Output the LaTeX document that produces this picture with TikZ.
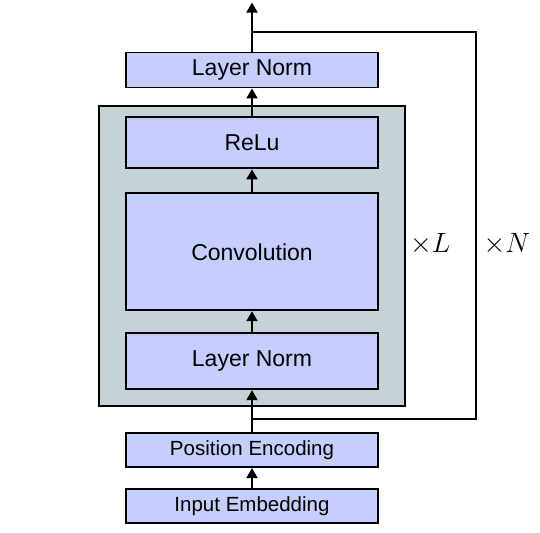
\documentclass[tikz,border=0pt]{standalone}
\usepackage{graphicx}
\usepackage{fontspec}
\setmainfont{Liberation Sans}
\usetikzlibrary{positioning, fit, arrows.meta, backgrounds, calc}
\definecolor{blockblue}{RGB}{197,206,253}
\definecolor{stackgray}{RGB}{197,211,216}

\begin{document}
\begin{tikzpicture}[
    x=1pt, y=1pt,
    block/.style={
        draw,
        rectangle,
        line width=1.9pt,
        minimum width=252pt,
        fill=blockblue,
        align=center,
        font=\fontsize{23}{27}\selectfont
    },
    smallblock/.style={
        block,
        minimum height=34pt,
        font=\fontsize{20.5}{24}\selectfont
    },
    arrow/.style={
        -{Triangle[length=10pt,width=11pt]},
        line width=1.9pt
    },
    wire/.style={
        line width=1.9pt
    },
    times/.style={
        inner sep=0pt,
        font=\fontsize{24.88}{30}\selectfont
    }
]

% Input side
\node[smallblock] (embed) {Input Embedding};
\node[smallblock, above=20pt of embed] (posenc) {Position Encoding};

% Repeated conv block
\node[block, minimum height=56pt, above=42pt of posenc] (lnin) {Layer Norm};
\node[block, minimum height=117pt, above=21pt of lnin] (conv) {Convolution};
\node[block, minimum height=51pt, above=23pt of conv] (relu) {ReLu};

\begin{scope}[on background layer]
\node[draw, line width=1.9pt, fill=stackgray, fit=(relu) (lnin),
      inner xsep=26pt, inner ysep=13pt, yshift=-3pt] (stack) {};
\end{scope}

\node[block, minimum height=35pt, above=17pt of stack] (lntop) {Layer Norm};
\coordinate[above=49pt of lntop] (out);

% Connections
\draw[arrow] (embed) -- (posenc);
\draw[arrow] (posenc) -- (lnin);
\draw[arrow] (lnin) -- (conv);
\draw[arrow] (conv) -- (relu);
\draw[arrow] (relu) -- (lntop);
\draw[arrow] (lntop) -- (out);

% Residual loop
\coordinate[above=20pt of lntop] (split);
\coordinate[above=13pt of posenc] (merge);
\draw[wire] (split) -- ++(224,0) |- (merge);

% Labels
\node[times, anchor=west, xshift=4pt, yshift=12pt] (timesL) at (stack.east) {\scalebox{1.12}{$\times L$}};
\node[times, right=33pt of timesL] (timesN) {\scalebox{1.12}{$\times N$}};

\useasboundingbox ($(embed.center)+(-252,-26)$) rectangle ++(540,532);

\end{tikzpicture}
\end{document}
